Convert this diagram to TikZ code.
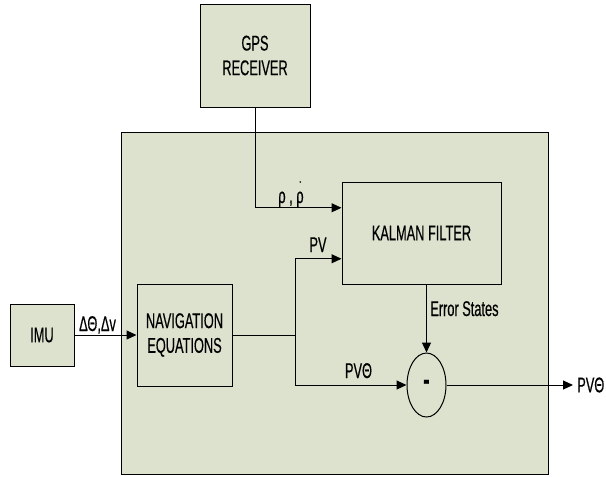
\documentclass[tikz,border=0pt]{standalone}
\usepackage{fontspec}
\setmainfont[FakeStretch=0.6,FakeBold=0.4]{Liberation Sans}
\usetikzlibrary{arrows.meta,shapes.geometric,calc}
\definecolor{boxfill}{RGB}{220,226,205}
\begin{document}
\begin{tikzpicture}[x=0.75pt,y=-0.75pt,
  blk/.style={draw=black, fill=boxfill, line width=0.75pt, inner sep=0pt, align=center,
    font=\fontsize{16}{18.5}\selectfont},
  arr/.style={-{Triangle[length=7.5pt,width=6.75pt]}, line width=0.75pt},
  ln/.style={line width=0.75pt},
  lbl/.style={font=\fontsize{16}{18.5}\selectfont, inner sep=0pt}]
\useasboundingbox (0,0) rectangle (606,476);
\node[blk, minimum width=320.25pt, minimum height=256.5pt] (big) at (334.5,303) {};
\node[blk, minimum width=82.5pt, minimum height=77.25pt] (gps) at (255,55.5) {GPS\\RECEIVER};
\node[blk, minimum width=48pt, minimum height=46.5pt] (imu) at (42,335) {IMU};
\node[blk, minimum width=71.25pt, minimum height=76.5pt] (nav) at (184.5,335) {NAVIGATION\\EQUATIONS};
\node[blk, minimum width=119.25pt, minimum height=76.5pt] (kf) at (421.5,233) {KALMAN FILTER};
\node[blk, ellipse, minimum width=29.25pt, minimum height=48pt, font=\fontsize{24}{24}\selectfont\bfseries] (sub) at (426.5,385) {-};
\coordinate (br) at (295,335);
\node[lbl, anchor=west, inner sep=3pt] (pvout) at (573,385) {PVΘ};
% connectors
\draw[arr] (imu.east) -- (imu.east -| nav.west);
\draw[arr] (gps.south) |- ($(kf.north west)!0.255!(kf.south west)$);
\draw[ln] (nav.east |- br) -- (br);
\draw[arr] (br) |- ($(kf.north west)!0.75!(kf.south west)$);
\draw[arr] (br) |- (sub.west);
\draw[arr] (sub.north |- kf.south) -- (sub.north);
\draw[arr] (sub.east) -- (pvout.west);
% labels
\node[lbl, anchor=base] (lrho) at (291,203) {ρ , ρ};
\fill ($(lrho.base east)+(-3.6,-21)$) circle (0.9);
\node[lbl, anchor=base] (lpv) at (318,252) {PV};
\node[lbl, anchor=base] (lpvt) at (358.5,378) {PVΘ};
\node[lbl, anchor=base] (ldel) at (97.5,331) {ΔΘ,Δv};
\node[lbl, anchor=base west] (lerr) at (430,316) {Error States};
\end{tikzpicture}
\end{document}
